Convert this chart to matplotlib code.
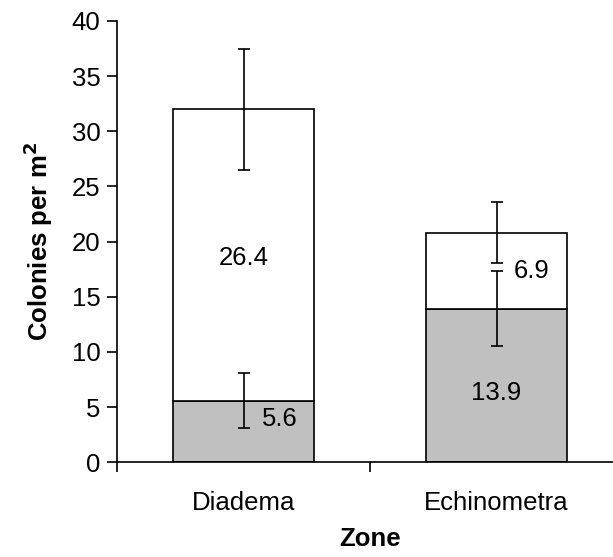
import numpy as np
import matplotlib.pyplot as plt

# ---------------------------------------------------------------
# Data
# ---------------------------------------------------------------
zones = ['Diadema', 'Echinometra']
lower_vals = [5.6, 13.9]          # grey segment
upper_vals = [26.4, 6.9]          # white segment
lower_err = [2.45, 3.4]
upper_err = [5.5, 2.75]

# label placement (x offset in category units, y offset in data units)
lower_lbl_dx = [0.145, 0.0]
lower_lbl_dy = [1.1, -0.7]
upper_lbl_dx = [0.0, 0.14]
upper_lbl_dy = [-0.3, 0.0]

plt.rcParams['font.family'] = ['Liberation Sans', 'DejaVu Sans']
FS = 18.5

# ---------------------------------------------------------------
# Plot
# ---------------------------------------------------------------
fig = plt.figure(figsize=(6.13, 5.57), dpi=100)
ax = fig.add_axes([117 / 613, (557 - 462.3) / 557, 506 / 613, 441.3 / 557])

x = np.arange(len(zones))
lower = np.array(lower_vals)
upper = np.array(upper_vals)
total = lower + upper

ax.bar(x, lower, width=0.56, color='#c0c0c0', edgecolor='black', linewidth=1.2, zorder=2)
ax.bar(x, upper, width=0.56, bottom=lower, color='white', edgecolor='black', linewidth=1.2, zorder=2)

ax.errorbar(x, lower, yerr=lower_err, fmt='none', ecolor='black', elinewidth=1.2,
            capsize=4.5, capthick=1.2, zorder=3)
ax.errorbar(x, total, yerr=upper_err, fmt='none', ecolor='black', elinewidth=1.2,
            capsize=4.5, capthick=1.2, zorder=3)

for i in range(len(zones)):
    ax.text(x[i] + lower_lbl_dx[i], lower[i] / 2 + lower_lbl_dy[i], f'{lower[i]:.1f}',
            ha='center', va='center', fontsize=FS, zorder=4)
    ax.text(x[i] + upper_lbl_dx[i], lower[i] + upper[i] / 2 + upper_lbl_dy[i], f'{upper[i]:.1f}',
            ha='center', va='center', fontsize=FS, zorder=4)

ax.set_xlim(-0.5, len(zones) - 0.5)
ax.set_ylim(0, 40)
ax.set_yticks(np.arange(0, 41, 5))
ax.set_xticks(x)
ax.set_xticklabels(zones)
ax.set_xticks(np.arange(-0.5, len(zones), 1.0), minor=True)

ax.tick_params(axis='y', direction='out', length=7, width=1.2, labelsize=FS, pad=5)
ax.tick_params(axis='x', which='major', length=0, labelsize=FS, pad=21)
ax.tick_params(axis='x', which='minor', direction='out', length=7, width=1.2)

for side in ['top', 'right']:
    ax.spines[side].set_visible(False)
for side in ['left', 'bottom']:
    ax.spines[side].set_linewidth(1.2)

ax.set_xlabel('Zone', fontsize=FS, fontweight='bold', labelpad=8)
ax.set_ylabel('Colonies per m$^\\mathbf{2}$', fontsize=FS, fontweight='bold', labelpad=12)

fig.savefig('out.png', dpi=100)
